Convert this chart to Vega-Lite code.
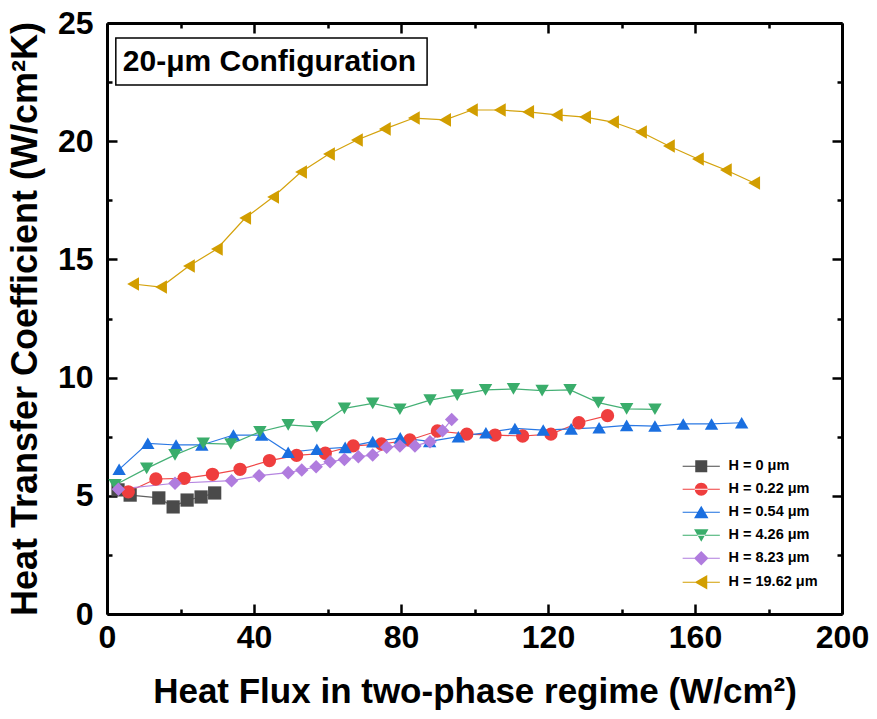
{
  "$schema": "https://vega.github.io/schema/vega-lite/v6.json",
  "width": 735,
  "height": 591,
  "autosize": {"type": "none"},
  "padding": {"left": 107, "top": 23, "right": 35, "bottom": 105},
  "background": "white",
  "config": {"view": {"stroke": null}, "font": "Liberation Sans"},
  "datasets": {
    "htc": [
      {"s": "H = 0 μm", "q": 3.0, "h": 5.25},
      {"s": "H = 0 μm", "q": 6.3, "h": 5.03},
      {"s": "H = 0 μm", "q": 14.1, "h": 4.91},
      {"s": "H = 0 μm", "q": 18.0, "h": 4.53},
      {"s": "H = 0 μm", "q": 21.8, "h": 4.82},
      {"s": "H = 0 μm", "q": 25.6, "h": 4.95},
      {"s": "H = 0 μm", "q": 29.3, "h": 5.12},

      {"s": "H = 0.22 μm", "q": 5.8, "h": 5.17},
      {"s": "H = 0.22 μm", "q": 13.3, "h": 5.71},
      {"s": "H = 0.22 μm", "q": 21.0, "h": 5.74},
      {"s": "H = 0.22 μm", "q": 28.7, "h": 5.91},
      {"s": "H = 0.22 μm", "q": 36.2, "h": 6.12},
      {"s": "H = 0.22 μm", "q": 44.2, "h": 6.49},
      {"s": "H = 0.22 μm", "q": 51.6, "h": 6.71},
      {"s": "H = 0.22 μm", "q": 59.4, "h": 6.80},
      {"s": "H = 0.22 μm", "q": 67.0, "h": 7.11},
      {"s": "H = 0.22 μm", "q": 74.7, "h": 7.19},
      {"s": "H = 0.22 μm", "q": 82.4, "h": 7.36},
      {"s": "H = 0.22 μm", "q": 89.9, "h": 7.74},
      {"s": "H = 0.22 μm", "q": 97.9, "h": 7.61},
      {"s": "H = 0.22 μm", "q": 105.6, "h": 7.57},
      {"s": "H = 0.22 μm", "q": 113.1, "h": 7.53},
      {"s": "H = 0.22 μm", "q": 120.8, "h": 7.61},
      {"s": "H = 0.22 μm", "q": 128.4, "h": 8.09},
      {"s": "H = 0.22 μm", "q": 136.2, "h": 8.39},

      {"s": "H = 0.54 μm", "q": 3.3, "h": 6.12},
      {"s": "H = 0.54 μm", "q": 11.1, "h": 7.22},
      {"s": "H = 0.54 μm", "q": 18.8, "h": 7.15},
      {"s": "H = 0.54 μm", "q": 25.8, "h": 7.15},
      {"s": "H = 0.54 μm", "q": 34.4, "h": 7.57},
      {"s": "H = 0.54 μm", "q": 42.1, "h": 7.57},
      {"s": "H = 0.54 μm", "q": 49.3, "h": 6.84},
      {"s": "H = 0.54 μm", "q": 57.1, "h": 6.97},
      {"s": "H = 0.54 μm", "q": 64.8, "h": 7.05},
      {"s": "H = 0.54 μm", "q": 72.3, "h": 7.29},
      {"s": "H = 0.54 μm", "q": 79.8, "h": 7.45},
      {"s": "H = 0.54 μm", "q": 87.8, "h": 7.30},
      {"s": "H = 0.54 μm", "q": 95.6, "h": 7.50},
      {"s": "H = 0.54 μm", "q": 103.1, "h": 7.67},
      {"s": "H = 0.54 μm", "q": 111.0, "h": 7.85},
      {"s": "H = 0.54 μm", "q": 118.7, "h": 7.78},
      {"s": "H = 0.54 μm", "q": 126.3, "h": 7.83},
      {"s": "H = 0.54 μm", "q": 133.9, "h": 7.88},
      {"s": "H = 0.54 μm", "q": 141.4, "h": 7.98},
      {"s": "H = 0.54 μm", "q": 149.1, "h": 7.95},
      {"s": "H = 0.54 μm", "q": 156.8, "h": 8.04},
      {"s": "H = 0.54 μm", "q": 164.5, "h": 8.04},
      {"s": "H = 0.54 μm", "q": 172.7, "h": 8.09},

      {"s": "H = 4.26 μm", "q": 2.2, "h": 5.46},
      {"s": "H = 4.26 μm", "q": 10.8, "h": 6.16},
      {"s": "H = 4.26 μm", "q": 18.5, "h": 6.73},
      {"s": "H = 4.26 μm", "q": 26.2, "h": 7.22},
      {"s": "H = 4.26 μm", "q": 33.7, "h": 7.19},
      {"s": "H = 4.26 μm", "q": 41.6, "h": 7.71},
      {"s": "H = 4.26 μm", "q": 49.3, "h": 8.00},
      {"s": "H = 4.26 μm", "q": 57.1, "h": 7.92},
      {"s": "H = 4.26 μm", "q": 64.6, "h": 8.70},
      {"s": "H = 4.26 μm", "q": 72.3, "h": 8.91},
      {"s": "H = 4.26 μm", "q": 79.7, "h": 8.66},
      {"s": "H = 4.26 μm", "q": 87.9, "h": 9.05},
      {"s": "H = 4.26 μm", "q": 95.3, "h": 9.26},
      {"s": "H = 4.26 μm", "q": 103.0, "h": 9.48},
      {"s": "H = 4.26 μm", "q": 110.6, "h": 9.52},
      {"s": "H = 4.26 μm", "q": 118.4, "h": 9.45},
      {"s": "H = 4.26 μm", "q": 126.0, "h": 9.48},
      {"s": "H = 4.26 μm", "q": 133.7, "h": 8.94},
      {"s": "H = 4.26 μm", "q": 141.4, "h": 8.68},
      {"s": "H = 4.26 μm", "q": 149.1, "h": 8.66},

      {"s": "H = 8.23 μm", "q": 3.1, "h": 5.28},
      {"s": "H = 8.23 μm", "q": 18.5, "h": 5.53},
      {"s": "H = 8.23 μm", "q": 33.9, "h": 5.64},
      {"s": "H = 8.23 μm", "q": 41.4, "h": 5.85},
      {"s": "H = 8.23 μm", "q": 49.3, "h": 5.98},
      {"s": "H = 8.23 μm", "q": 53.0, "h": 6.09},
      {"s": "H = 8.23 μm", "q": 56.9, "h": 6.23},
      {"s": "H = 8.23 μm", "q": 60.7, "h": 6.44},
      {"s": "H = 8.23 μm", "q": 64.6, "h": 6.54},
      {"s": "H = 8.23 μm", "q": 68.4, "h": 6.65},
      {"s": "H = 8.23 μm", "q": 72.3, "h": 6.73},
      {"s": "H = 8.23 μm", "q": 76.1, "h": 7.05},
      {"s": "H = 8.23 μm", "q": 79.7, "h": 7.11},
      {"s": "H = 8.23 μm", "q": 83.8, "h": 7.11},
      {"s": "H = 8.23 μm", "q": 87.9, "h": 7.29},
      {"s": "H = 8.23 μm", "q": 91.3, "h": 7.75},
      {"s": "H = 8.23 μm", "q": 93.8, "h": 8.23},

      {"s": "H = 19.62 μm", "q": 7.1, "h": 13.96},
      {"s": "H = 19.62 μm", "q": 14.7, "h": 13.83},
      {"s": "H = 19.62 μm", "q": 22.3, "h": 14.72},
      {"s": "H = 19.62 μm", "q": 29.9, "h": 15.44},
      {"s": "H = 19.62 μm", "q": 37.6, "h": 16.75},
      {"s": "H = 19.62 μm", "q": 45.2, "h": 17.64},
      {"s": "H = 19.62 μm", "q": 52.8, "h": 18.70},
      {"s": "H = 19.62 μm", "q": 60.4, "h": 19.46},
      {"s": "H = 19.62 μm", "q": 68.0, "h": 20.05},
      {"s": "H = 19.62 μm", "q": 75.6, "h": 20.52},
      {"s": "H = 19.62 μm", "q": 83.5, "h": 20.98},
      {"s": "H = 19.62 μm", "q": 92.0, "h": 20.90},
      {"s": "H = 19.62 μm", "q": 99.3, "h": 21.32},
      {"s": "H = 19.62 μm", "q": 106.9, "h": 21.32},
      {"s": "H = 19.62 μm", "q": 114.6, "h": 21.24},
      {"s": "H = 19.62 μm", "q": 122.4, "h": 21.11},
      {"s": "H = 19.62 μm", "q": 130.1, "h": 21.02},
      {"s": "H = 19.62 μm", "q": 137.7, "h": 20.81},
      {"s": "H = 19.62 μm", "q": 145.3, "h": 20.39},
      {"s": "H = 19.62 μm", "q": 152.9, "h": 19.80},
      {"s": "H = 19.62 μm", "q": 160.8, "h": 19.25},
      {"s": "H = 19.62 μm", "q": 168.4, "h": 18.78},
      {"s": "H = 19.62 μm", "q": 176.1, "h": 18.23}
    ]
  },
  "data": {"name": "htc"},
  "layer": [
    {
      "mark": {"type": "line", "strokeWidth": 1.2},
      "encoding": {
        "x": {
          "field": "q", "type": "quantitative",
          "scale": {"domain": [0, 200], "nice": false},
          "axis": {
            "orient": "bottom",
            "values": [0, 20, 40, 60, 80, 100, 120, 140, 160, 180, 200],
            "labelExpr": "datum.value % 40 === 0 ? datum.label : ''",
            "tickSize": {"condition": {"test": "datum.value % 40 === 0", "value": -10}, "value": -5},
            "tickWidth": 2.5, "tickColor": "black",
            "domainColor": "black", "domainWidth": 3,
            "grid": false, "labelFlush": false, "labelOverlap": false,
            "labelFont": "Liberation Sans", "labelFontWeight": "bold",
            "labelFontSize": 32, "labelColor": "black", "labelPadding": 18,
            "title": "Heat Flux in two-phase regime (W/cm²)",
            "titleFont": "Liberation Sans", "titleFontWeight": "bold",
            "titleFontSize": 35, "titleColor": "black", "titlePadding": 16
          }
        },
        "y": {
          "field": "h", "type": "quantitative",
          "scale": {"domain": [0, 25], "nice": false},
          "axis": {
            "orient": "left",
            "values": [0, 2.5, 5, 7.5, 10, 12.5, 15, 17.5, 20, 22.5, 25],
            "labelExpr": "datum.value % 5 === 0 ? datum.label : ''",
            "tickSize": {"condition": {"test": "datum.value % 5 === 0", "value": -10}, "value": -5},
            "tickWidth": 2.5, "tickColor": "black",
            "domainColor": "black", "domainWidth": 3,
            "grid": false, "labelFlush": false, "labelOverlap": false,
            "labelFont": "Liberation Sans", "labelFontWeight": "bold",
            "labelFontSize": 32, "labelColor": "black", "labelPadding": 24,
            "title": "Heat Transfer Coefficient (W/cm²K)",
            "titleFont": "Liberation Sans", "titleFontWeight": "bold",
            "titleFontSize": 36, "titleColor": "black", "titlePadding": 13
          }
        },
        "color": {
          "field": "s", "type": "nominal",
          "scale": {
            "domain": ["H = 0 μm", "H = 0.22 μm", "H = 0.54 μm", "H = 4.26 μm", "H = 8.23 μm", "H = 19.62 μm"],
            "range": ["#606060", "#f04848", "#2a78e4", "#45b075", "#b584e0", "#d4a20c"]
          },
          "legend": null
        }
      }
    },
    {
      "mark": {"type": "point", "filled": true, "opacity": 1},
      "encoding": {
        "x": {
          "field": "q", "type": "quantitative",
          "axis": {
            "orient": "top",
            "values": [0, 20, 40, 60, 80, 100, 120, 140, 160, 180, 200],
            "labels": false, "title": null, "grid": false,
            "tickSize": {"condition": {"test": "datum.value % 40 === 0", "value": -10}, "value": -5},
            "tickWidth": 2.5, "tickColor": "black",
            "domainColor": "black", "domainWidth": 3
          }
        },
        "y": {
          "field": "h", "type": "quantitative",
          "axis": {
            "orient": "right",
            "values": [0, 2.5, 5, 7.5, 10, 12.5, 15, 17.5, 20, 22.5, 25],
            "labels": false, "title": null, "grid": false,
            "tickSize": {"condition": {"test": "datum.value % 5 === 0", "value": -10}, "value": -5},
            "tickWidth": 2.5, "tickColor": "black",
            "domainColor": "black", "domainWidth": 3
          }
        },
        "color": {
          "field": "s", "type": "nominal",
          "scale": {
            "domain": ["H = 0 μm", "H = 0.22 μm", "H = 0.54 μm", "H = 4.26 μm", "H = 8.23 μm", "H = 19.62 μm"],
            "range": ["#4a4a4a", "#ef3e3e", "#1a6fe0", "#3aad6b", "#b07cde", "#d29e00"]
          },
          "legend": null
        },
        "shape": {
          "field": "s", "type": "nominal",
          "scale": {
            "domain": ["H = 0 μm", "H = 0.22 μm", "H = 0.54 μm", "H = 4.26 μm", "H = 8.23 μm", "H = 19.62 μm"],
            "range": ["square", "circle", "triangle-up", "triangle-down", "diamond", "triangle-left"]
          },
          "legend": null
        },
        "size": {
          "field": "s", "type": "nominal",
          "scale": {
            "domain": ["H = 0 μm", "H = 0.22 μm", "H = 0.54 μm", "H = 4.26 μm", "H = 8.23 μm", "H = 19.62 μm"],
            "range": [175, 185, 260, 260, 290, 300]
          },
          "legend": null
        }
      }
    },
    {
      "transform": [{"filter": "false"}],
      "mark": {"type": "point", "filled": true, "opacity": 1},
      "encoding": {
        "x": {"field": "q", "type": "quantitative", "axis": null},
        "y": {"field": "h", "type": "quantitative", "axis": null},
        "color": {
          "field": "s", "type": "nominal",
          "scale": {
            "domain": ["H = 0 μm", "H = 0.22 μm", "H = 0.54 μm", "H = 4.26 μm", "H = 8.23 μm", "H = 19.62 μm"],
            "range": ["#4a4a4a", "#ef3e3e", "#1a6fe0", "#3aad6b", "#b07cde", "#d29e00"]
          },
          "legend": {
            "title": null, "orient": "bottom-right", "offset": 24,
            "symbolSize": 144, "symbolStrokeWidth": 0, "symbolOpacity": 1,
            "labelFont": "Liberation Sans", "labelFontWeight": "bold",
            "labelFontSize": 14.5, "labelColor": "black", "labelOffset": 20,
            "rowPadding": 8
          }
        },
        "shape": {
          "field": "s", "type": "nominal",
          "scale": {
            "domain": ["H = 0 μm", "H = 0.22 μm", "H = 0.54 μm", "H = 4.26 μm", "H = 8.23 μm", "H = 19.62 μm"],
            "range": [
              "M-3.1,-0.09H3.1V0.09H-3.1Z M-1,-1H1V1H-1Z",
              "M-3.1,-0.09H3.1V0.09H-3.1Z M-1.08,0A1.08,1.08,0,1,0,1.08,0A1.08,1.08,0,1,0,-1.08,0Z",
              "M-3.1,-0.09H3.1V0.09H-3.1Z M0,-1.1L1.2,1H-1.2Z",
              "M-3.1,-0.09H3.1V0.09H-3.1Z M0,1.1L1.2,-1H-1.2Z",
              "M-3.1,-0.09H3.1V0.09H-3.1Z M-1.2,0L0,-1.2L1.2,0L0,1.2Z",
              "M-3.1,-0.09H3.1V0.09H-3.1Z M-1.1,0L1,-1.2V1.2Z"
            ]
          },
          "legend": {
            "title": null, "orient": "bottom-right", "offset": 24,
            "symbolSize": 144, "symbolStrokeWidth": 0, "symbolOpacity": 1,
            "labelFont": "Liberation Sans", "labelFontWeight": "bold",
            "labelFontSize": 14.5, "labelColor": "black", "labelOffset": 20,
            "rowPadding": 8
          }
        }
      }
    },
    {
      "data": {"values": [{}]},
      "mark": {"type": "rect", "fill": "white", "stroke": "black", "strokeWidth": 1.5},
      "encoding": {
        "x": {"datum": 2.4, "type": "quantitative", "axis": null},
        "x2": {"datum": 87.1},
        "y": {"datum": 24.37, "type": "quantitative", "axis": null},
        "y2": {"datum": 22.38}
      }
    },
    {
      "data": {"values": [{}]},
      "mark": {
        "type": "text", "text": "20-μm Configuration", "align": "left", "baseline": "middle",
        "font": "Liberation Sans", "fontWeight": "bold", "fontSize": 30, "color": "black"
      },
      "encoding": {
        "x": {"datum": 4.3, "type": "quantitative", "axis": null},
        "y": {"datum": 23.37, "type": "quantitative", "axis": null}
      }
    }
  ],
  "resolve": {
    "scale": {"color": "independent", "shape": "independent"},
    "axis": {"x": "independent", "y": "independent"}
  }
}
